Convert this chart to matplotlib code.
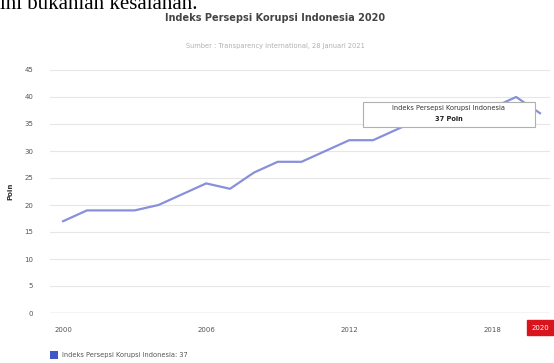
import matplotlib
matplotlib.use("Agg")
import matplotlib.pyplot as plt

years = list(range(2000, 2021))
scores = [17, 19, 19, 19, 20, 22, 24, 23, 26, 28, 28, 30, 32, 32, 34, 36, 37, 37, 38, 40, 37]
yticks = [0, 5, 10, 15, 20, 25, 30, 35, 40, 45]
xticks = [2000, 2006, 2012, 2018]
series_name = "Indeks Persepsi Korupsi Indonesia"
title = "Indeks Persepsi Korupsi Indonesia 2020"
subtitle = "Sumber : Transparency International, 28 Januari 2021"

fig = plt.figure(figsize=(5.54, 3.63), dpi=100)
fig.patch.set_facecolor("white")
W, H = 554, 363
ax = fig.add_axes([50 / W, 1 - 313 / H, 500 / W, 243 / H])

ax.plot(years, scores, color="#8890da", lw=1.6, solid_joinstyle="round")
ax.set_ylim(0, 45)
ax.set_xlim(1999.45, 2020.42)
ax.set_yticks(yticks)
ax.set_xticks(xticks)
ax.tick_params(length=0, labelsize=5, colors="#555555")
ax.tick_params(axis="x", pad=10)
ax.tick_params(axis="y", pad=12)
ax.grid(axis="y", color="#e6e6e6", lw=0.8)
ax.set_axisbelow(True)
for s in ax.spines.values():
    s.set_visible(False)
ax.axhline(0, color="#d0d0d0", lw=1)
ax.set_ylabel("Poin", fontsize=5, fontweight="bold", color="#333333", labelpad=8)

# highlighted last year label
ax.text(years[-1], -0.06, str(years[-1]), transform=ax.get_xaxis_transform(),
        ha="center", va="center", fontsize=5, color="white",
        bbox=dict(boxstyle="square,pad=0.6", fc="#d8141c", ec="#d8141c"))

# tooltip (box in pixel geometry of the figure)
fig.patches.append(plt.Rectangle((363 / W, 1 - 127 / H), 172 / W, 25 / H,
                                 transform=fig.transFigure, fc="white",
                                 ec="#b0b0b0", lw=0.8, zorder=5))
fig.text(449 / W, 1 - 108 / H, series_name, ha="center", va="center",
         fontsize=4.8, color="#333333", zorder=6)
fig.text(449 / W, 1 - 119 / H, f"{scores[-1]} Poin", ha="center", va="center",
         fontsize=4.8, fontweight="bold", color="#222222", zorder=6)

fig.text(275 / W, 1 - 18 / H, title, ha="center", va="center", fontsize=7,
         fontweight="bold", color="#444444")
fig.text(275 / W, 1 - 46 / H, subtitle, ha="center", va="center", fontsize=4.8,
         color="#b0b0b0")
fig.text(0.0, 1 - 9 / H, "ini bukanlah kesalahan.", ha="left", va="baseline",
         fontsize=15, family="Liberation Serif", color="black")

# legend
fig.patches.append(plt.Rectangle((50 / W, 1 - 359 / H), 8 / W, 8 / H,
                                 transform=fig.transFigure, fc="#3f58c6", ec="none"))
fig.text(62 / W, 1 - 355 / H, f"{series_name}: {scores[-1]}", ha="left", va="center",
         fontsize=4.8, color="#555555")

fig.savefig("out.png", dpi=100)
